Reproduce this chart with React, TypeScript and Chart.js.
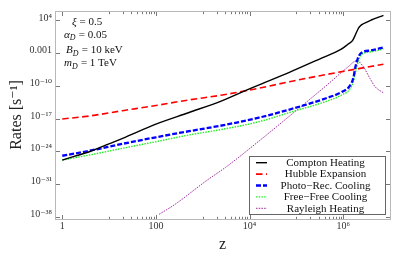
import React, { useEffect, useRef } from "react";
import { Chart, registerables } from "chart.js";

Chart.register(...registerables);

const SERIF = '"Liberation Serif", "Times New Roman", "DejaVu Serif", serif';

// ---- data ----
const comptonZ = [1, 1.78, 3.8, 8.7, 19.5, 100, 513, 2630, 12600, 70800, 355000, 891000, 1.26e6, 1.58e6, 1.78e6, 1.95e6, 2.14e6, 2.34e6, 2.69e6, 3.98e6, 7.24e6];
const comptonRate = [1.26e-26, 7.9e-26, 7.9e-25, 2.24e-23, 6.0e-22, 6.3e-19, 2.0e-16, 7.1e-14, 6.3e-11, 7.9e-8, 1e-4, 6.3e-3, 7.9e-2, 0.5, 5.0, 40, 250, 790, 2000, 12600, 126000];

const hubbleZ = [1, 3.8, 19.5, 100, 513, 2630, 15800, 81300, 417000, 2.14e6, 7.24e6];
const hubbleRate = [8.1e-18, 3.6e-17, 4.9e-16, 6.3e-15, 1e-13, 1.12e-12, 3.16e-11, 1e-9, 2.5e-8, 5.0e-7, 4.2e-6];

const photoZ = [1, 3.8, 19.5, 100, 513, 2820, 15800, 81300, 417000, 933000, 1.41e6, 1.66e6, 1.82e6, 2.04e6, 2.4e6, 3.98e6, 7.24e6];
const photoRate = [1.1e-25, 1.26e-24, 4.0e-23, 1e-21, 2.0e-20, 4.0e-19, 1.58e-17, 1.26e-15, 2.0e-13, 5.0e-12, 1.26e-10, 6.3e-9, 1e-6, 6.3e-5, 1e-3, 4.0e-3, 1.78e-2];

const freeZ = [1, 3.8, 19.5, 100, 513, 2820, 15800, 81300, 417000, 933000, 1.41e6, 1.66e6, 1.86e6, 2.14e6, 2.51e6, 3.98e6, 7.24e6];
const freeRate = [1.35e-26, 1.58e-25, 4.4e-24, 1.12e-22, 3.1e-21, 5.6e-20, 2.1e-18, 3.0e-16, 4.2e-14, 1.12e-12, 2.5e-11, 1e-9, 1.58e-7, 2.5e-5, 6.3e-4, 2.0e-3, 7.9e-3];

const rayleighZ = [117, 245, 1260, 3090, 17000, 81300, 417000, 1.29e6, 1.95e6, 2.69e6, 3.72e6, 4.79e6, 7.24e6];
const rayleighRate = [3.2e-38, 3.2e-36, 7.1e-31, 3.7e-28, 2.6e-22, 1e-16, 7.9e-11, 1.29e-6, 2.5e-5, 1.29e-6, 4.3e-9, 6.8e-11, 3.2e-12];

const seriesLabels = ["Compton Heating", "Hubble Expansion", "Photo\u2212Rec. Cooling", "Free\u2212Free Cooling", "Rayleigh Heating"];

const xMajorTicks = [1, 100, 1e4, 1e6];
const xMajorLabels = ["1", "100", "10\u2074", "10\u2076"];
const xMinorTicks = [10, 20, 30, 40, 50, 60, 70, 80, 90, 1000, 2000, 3000, 4000, 5000, 6000, 7000, 8000, 9000, 1e5, 2e5, 3e5, 4e5, 5e5, 6e5, 7e5, 8e5, 9e5];
const yTicks = [1e-38, 1e-31, 1e-24, 1e-17, 1e-10, 1e-3, 1e4];
const yTickLabels = ["10\u207B\u00B3\u2078", "10\u207B\u00B3\u00B9", "10\u207B\u00B2\u2074", "10\u207B\u00B9\u2077", "10\u207B\u00B9\u2070", "0.001", "10\u2074"];

const xTitle = "z";
const yTitle = "Rates [s\u207B\u00B9]";

type Part = { t: string; it?: boolean; sub?: boolean };
const paramLines: Part[][] = [
  [{ t: "\u03BE", it: true }, { t: " = 0.5" }],
  [{ t: "\u03B1", it: true }, { t: "D", it: true, sub: true }, { t: " = 0.05" }],
  [{ t: "B", it: true }, { t: "D", it: true, sub: true }, { t: " = 10 keV" }],
  [{ t: "m", it: true }, { t: "D", it: true, sub: true }, { t: " = 1 TeV" }],
];

function pts(z: number[], r: number[]) {
  return z.map((v, i) => ({ x: v, y: r[i] }));
}

const decor = {
  id: "decor",
  afterDatasetsDraw(chart: any) {
    const { ctx, chartArea: a, scales } = chart;
    ctx.save();
    // frame
    ctx.strokeStyle = "#b8b8b8";
    ctx.lineWidth = 1;
    ctx.setLineDash([]);
    ctx.strokeRect(a.left + 0.5, a.top + 0.5, a.right - a.left, a.bottom - a.top);
    // inward ticks
    ctx.strokeStyle = "#555";
    ctx.lineWidth = 0.8;
    const xs = scales.x;
    xs.ticks.forEach((t: any) => {
      const px = Math.round(xs.getPixelForValue(t.value)) + 0.5;
      const len = xMajorTicks.includes(t.value) ? 4 : 2.2;
      ctx.beginPath();
      ctx.moveTo(px, a.bottom);
      ctx.lineTo(px, a.bottom - len);
      ctx.moveTo(px, a.top + 1);
      ctx.lineTo(px, a.top + 1 + len);
      ctx.stroke();
    });
    const ys = scales.y;
    ys.ticks.forEach((t: any) => {
      const py = Math.round(ys.getPixelForValue(t.value)) + 0.5;
      ctx.beginPath();
      ctx.moveTo(a.left + 1, py);
      ctx.lineTo(a.left + 5, py);
      ctx.moveTo(a.right, py);
      ctx.lineTo(a.right - 4, py);
      ctx.stroke();
    });

    // parameter annotations
    ctx.fillStyle = "#111";
    ctx.textBaseline = "alphabetic";
    ctx.textAlign = "left";
    const size = 11;
    const lefts = [17, 9, 11, 9];
    const bases = [14, 26.5, 42, 55];
    paramLines.forEach((line, i) => {
      let x = a.left + lefts[i];
      const y = a.top + bases[i];
      line.forEach((p) => {
        const fs = p.sub ? size * 0.72 : size;
        ctx.font = `${p.it ? "italic " : ""}${fs}px ${SERIF}`;
        ctx.fillText(p.t, x, y + (p.sub ? 2.5 : 0));
        x += ctx.measureText(p.t).width + (p.sub ? 0.5 : 0);
      });
    });

    // legend box
    const bl = a.right - 141;
    const br = a.right - 5;
    const bt = a.bottom - 63;
    const bb = a.bottom - 5;
    ctx.fillStyle = "#fff";
    ctx.fillRect(bl, bt, br - bl, bb - bt);
    ctx.strokeStyle = "#666";
    ctx.lineWidth = 1;
    ctx.strokeRect(bl + 0.5, bt + 0.5, br - bl, bb - bt);
    ctx.font = `11px ${SERIF}`;
    ctx.textAlign = "center";
    ctx.textBaseline = "middle";
    chart.data.datasets.forEach((ds: any, i: number) => {
      const y = bt + 6.7 + i * 11.4;
      ctx.save();
      ctx.strokeStyle = ds.borderColor;
      ctx.lineWidth = ds.borderWidth;
      ctx.setLineDash(ds.borderDash || []);
      ctx.beginPath();
      ctx.moveTo(bl + 7, y);
      ctx.lineTo(bl + 18, y);
      ctx.stroke();
      ctx.restore();
      ctx.fillStyle = "#111";
      ctx.fillText(ds.label, bl + 76.5, y + 0.5);
    });
    ctx.restore();
  },
};

export default function App() {
  const ref = useRef<HTMLCanvasElement | null>(null);
  useEffect(() => {
    if (!ref.current) return;
    const chart = new Chart(ref.current, {
      type: "line",
      data: {
        datasets: [
          { label: seriesLabels[0], data: pts(comptonZ, comptonRate), borderColor: "#000000", borderWidth: 1.4, pointRadius: 0, cubicInterpolationMode: "monotone" },
          { label: seriesLabels[1], data: pts(hubbleZ, hubbleRate), borderColor: "#ff0000", borderWidth: 1.6, borderDash: [6.5, 3.5], pointRadius: 0, cubicInterpolationMode: "monotone" },
          { label: seriesLabels[2], data: pts(photoZ, photoRate), borderColor: "#0000ff", borderWidth: 2.3, borderDash: [5, 2], pointRadius: 0, cubicInterpolationMode: "monotone" },
          { label: seriesLabels[3], data: pts(freeZ, freeRate), borderColor: "#22ee22", borderWidth: 1.4, borderDash: [1.5, 1.2], pointRadius: 0, cubicInterpolationMode: "monotone" },
          { label: seriesLabels[4], data: pts(rayleighZ, rayleighRate), borderColor: "#a030a0", borderWidth: 1, borderDash: [1.6, 1.1], pointRadius: 0, cubicInterpolationMode: "monotone" },
        ] as any,
      },
      options: {
        animation: false,
        responsive: false,
        events: [],
        layout: { padding: { top: 11, right: 25, left: 0, bottom: 0 } },
        plugins: { legend: { display: false }, tooltip: { enabled: false } },
        scales: {
          x: {
            type: "logarithmic",
            min: 0.745,
            max: 1e7,
            grid: { display: false, drawTicks: false },
            border: { display: false },
            afterBuildTicks: (s: any) => {
              s.ticks = [...xMajorTicks, ...xMinorTicks].sort((p, q) => p - q).map((v) => ({ value: v }));
            },
            afterFit: (s: any) => {
              s.height = 40;
            },
            ticks: {
              autoSkip: false,
              maxRotation: 0,
              padding: 1,
              color: "#333",
              font: { family: SERIF, size: 10 },
              callback: (v: any) => {
                const i = xMajorTicks.indexOf(Number(v));
                return i >= 0 ? xMajorLabels[i] : "";
              },
            },
            title: {
              display: true,
              text: xTitle,
              color: "#222",
              font: { family: SERIF, size: 16 },
              padding: { top: 0, bottom: 4.5 },
            },
          },
          y: {
            type: "logarithmic",
            min: 3.16e-39,
            max: 1.07e6,
            grid: { display: false, drawTicks: false },
            border: { display: false },
            afterBuildTicks: (s: any) => {
              s.ticks = yTicks.map((v) => ({ value: v }));
            },
            afterFit: (s: any) => {
              s.width = 55;
            },
            ticks: {
              autoSkip: false,
              padding: 3,
              labelOffset: -2.5,
              color: "#333",
              font: { family: SERIF, size: 10 },
              callback: (v: any) => {
                const i = yTicks.indexOf(Number(v));
                return i >= 0 ? yTickLabels[i] : "";
              },
            },
            title: {
              display: true,
              text: yTitle,
              color: "#222",
              font: { family: SERIF, size: 16 },
              padding: { top: 7, bottom: 0 },
            },
          },
        },
      },
      plugins: [decor],
    } as any);
    return () => chart.destroy();
  }, []);

  return (
    <div style={{ position: "absolute", left: 0, top: 0, width: 415, height: 259, background: "#fff" }}>
      <canvas ref={ref} width={415} height={259} style={{ display: "block", width: 415, height: 259 }} />
    </div>
  );
}
